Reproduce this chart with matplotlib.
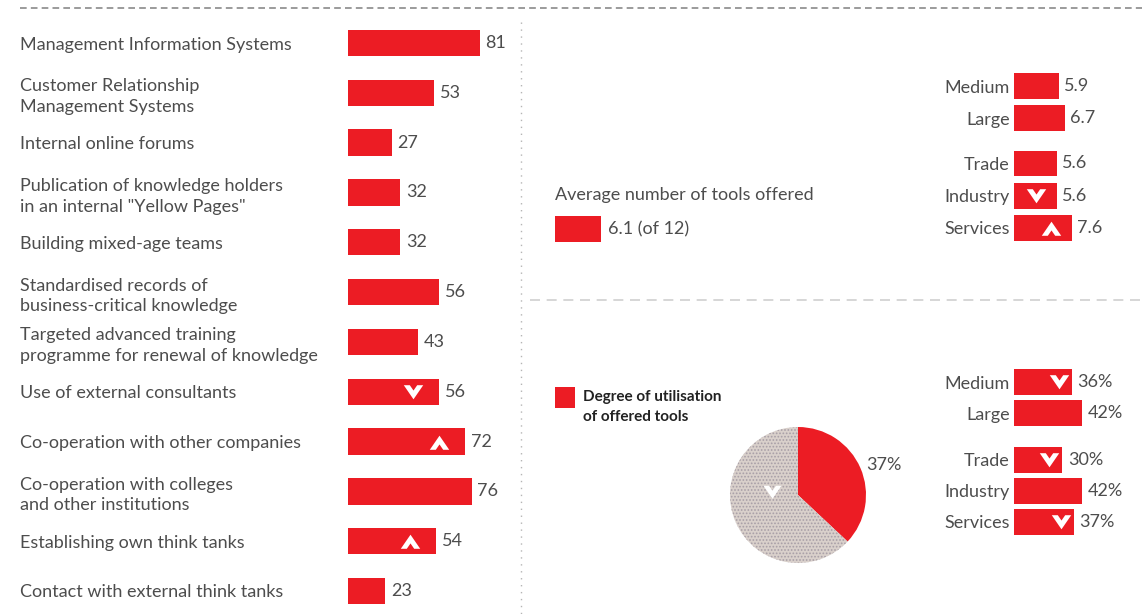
import numpy as np
import matplotlib
matplotlib.use('Agg')
import matplotlib.pyplot as plt
from matplotlib.path import Path

# ---- data ----
tools = ['Management Information Systems',
         'Customer Relationship\nManagement Systems',
         'Internal online forums',
         'Publication of knowledge holders\nin an internal "Yellow Pages"',
         'Building mixed-age teams',
         'Standardised records of\nbusiness-critical knowledge',
         'Targeted advanced training\nprogramme for renewal of knowledge',
         'Use of external consultants',
         'Co-operation with other companies',
         'Co-operation with colleges\nand other institutions',
         'Establishing own think tanks',
         'Contact with external think tanks']
tool_values = [81, 53, 27, 32, 32, 56, 43, 56, 72, 76, 54, 23]
tool_trend = ['', '', '', '', '', '', '', 'down', 'up', '', 'up', '']

groups = ['Medium', 'Large', 'Trade', 'Industry', 'Services']
avg_tools = [5.9, 6.7, 5.6, 5.6, 7.6]
avg_trend = ['', '', '', 'down', 'up']
avg_total = 6.1

util_values = [36, 42, 30, 42, 37]
util_trend = ['down', '', 'down', '', 'down']
util_total = 37

RED = '#ec1c24'
TXT = '#4d4d4d'
FS = 13
plt.rcParams['font.family'] = ['Lato', 'DejaVu Sans']

W, H = 1142, 614
fig = plt.figure(figsize=(W / 100, H / 100), dpi=100)


def px_axes(x0, y0, x1, y1):
    return fig.add_axes([x0 / W, 1 - y1 / H, (x1 - x0) / W, (y1 - y0) / H])


def clean(ax):
    for s in ax.spines.values():
        s.set_visible(False)
    ax.set_xticks([])
    ax.tick_params(axis='y', length=0)


down_v = Path([(-1, 0.75), (-0.38, 0.75), (0, 0.2), (0.38, 0.75), (1, 0.75),
               (0, -0.7), (-1, 0.75)], closed=True)
up_v = Path([(x, -y) for x, y in down_v.vertices], closed=True)


def chevrons(ax, vals, ys, trends, back, size=14):
    for v, y, t in zip(vals, ys, trends):
        if t:
            ax.plot(v - back, y, marker=down_v if t == 'down' else up_v,
                    color='white', markersize=size, markeredgewidth=0)


# ---- background lines ----
bg = fig.add_axes([0, 0, 1, 1])
bg.set_xlim(0, W)
bg.set_ylim(H, 0)
bg.axis('off')
bg.plot([20, W], [8, 8], color='#8a8a8a', lw=1.2, ls=(0, (4, 2.5)))
bg.plot([521, 521], [22, H], color='#b5b5b5', lw=1, ls=(0, (1, 4)))
bg.plot([530, W], [300, 300], color='#cfcfcf', lw=1.2, ls=(0, (6, 4)))

# ---- left: tools ----
ax = px_axes(348, 18.1, 511, 615.9)
ys = np.arange(len(tools))
ax.barh(ys, tool_values, height=0.53, color=RED)
ax.set_xlim(0, 100)
ax.set_ylim(11.5, -0.5)
clean(ax)
ax.set_yticks(ys)
ax.set_yticklabels(tools, ha='left', fontsize=FS, color=TXT, linespacing=1.35)
ax.tick_params(axis='y', pad=236)
for y, v in zip(ys, tool_values):
    ax.annotate(str(v), (v, y), xytext=(4, 0), textcoords='offset points',
                va='center', ha='left', fontsize=FS, color=TXT)
chevrons(ax, tool_values, ys, tool_trend, 16)

# ---- right top: average number of tools ----
ay = [0, 1, 2.4, 3.4, 4.4]
ax2 = px_axes(1014, 70, 1090, 244)
ax2.barh(ay, avg_tools, height=0.8, color=RED)
ax2.set_xlim(0, 10)
ax2.set_ylim(4.9, -0.5)
clean(ax2)
ax2.set_yticks(ay)
ax2.set_yticklabels(groups, fontsize=FS, color=TXT)
ax2.tick_params(axis='y', pad=3)
for y, v in zip(ay, avg_tools):
    ax2.annotate(f'{v}', (v, y), xytext=(4, 0), textcoords='offset points',
                 va='center', ha='left', fontsize=FS, color=TXT)
chevrons(ax2, avg_tools, ay, avg_trend, 2.7)

ax3 = px_axes(555, 216, 631, 242)
ax3.barh([0], [avg_total], height=1.0, color=RED)
ax3.set_xlim(0, 10)
ax3.set_ylim(-0.5, 0.5)
ax3.axis('off')
ax3.annotate(f'{avg_total} (of 12)', (avg_total, 0), xytext=(5, 0),
             textcoords='offset points', va='center', fontsize=FS, color=TXT)
fig.text(555 / W, 1 - 195 / H, 'Average number of tools offered',
         fontsize=FS, color=TXT, va='center')

# ---- right bottom: degree of utilisation ----
uy = [0, 1, 2.5, 3.5, 4.5]
ax4 = px_axes(1014, 366.5, 1143, 537.5)
ax4.barh(uy, util_values, height=0.84, color=RED)
ax4.set_xlim(0, 80)
ax4.set_ylim(5.0, -0.5)
clean(ax4)
ax4.set_yticks(uy)
ax4.set_yticklabels(groups, fontsize=FS, color=TXT)
ax4.tick_params(axis='y', pad=3)
for y, v in zip(uy, util_values):
    ax4.annotate(f'{v}%', (v, y), xytext=(4, 0), textcoords='offset points',
                 va='center', ha='left', fontsize=FS, color=TXT)
chevrons(ax4, util_values, uy, util_trend, 8)

# legend
ax5 = px_axes(555, 387, 575, 408)
ax5.barh([0], [1], height=1, color=RED)
ax5.set_xlim(0, 1)
ax5.set_ylim(-0.5, 0.5)
ax5.axis('off')
fig.text(583 / W, 1 - 397 / H, 'Degree of utilisation', fontsize=11,
         fontweight='bold', color='#222222', va='center')
fig.text(583 / W, 1 - 417 / H, 'of offered tools', fontsize=11,
         fontweight='bold', color='#222222', va='center')

# pie
plt.rcParams['hatch.linewidth'] = 0.8
ax6 = px_axes(730, 427, 866, 563)
wedges, texts = ax6.pie([util_total, 100 - util_total], startangle=90,
                        counterclock=False, colors=[RED, '#d9d0cb'],
                        labels=[f'{util_total}%', ''], labeldistance=1.1,
                        wedgeprops=dict(linewidth=0),
                        textprops=dict(fontsize=FS, color=TXT))
wedges[1].set_hatch('.....')
wedges[1].set_edgecolor('#a79ea6')
ax6.set_xlim(-1, 1)
ax6.set_ylim(-1, 1)
ax6.plot(-0.38, 0.04, marker=down_v, color='white', markersize=13,
         markeredgewidth=0)

fig.savefig('out.png', dpi=100)
